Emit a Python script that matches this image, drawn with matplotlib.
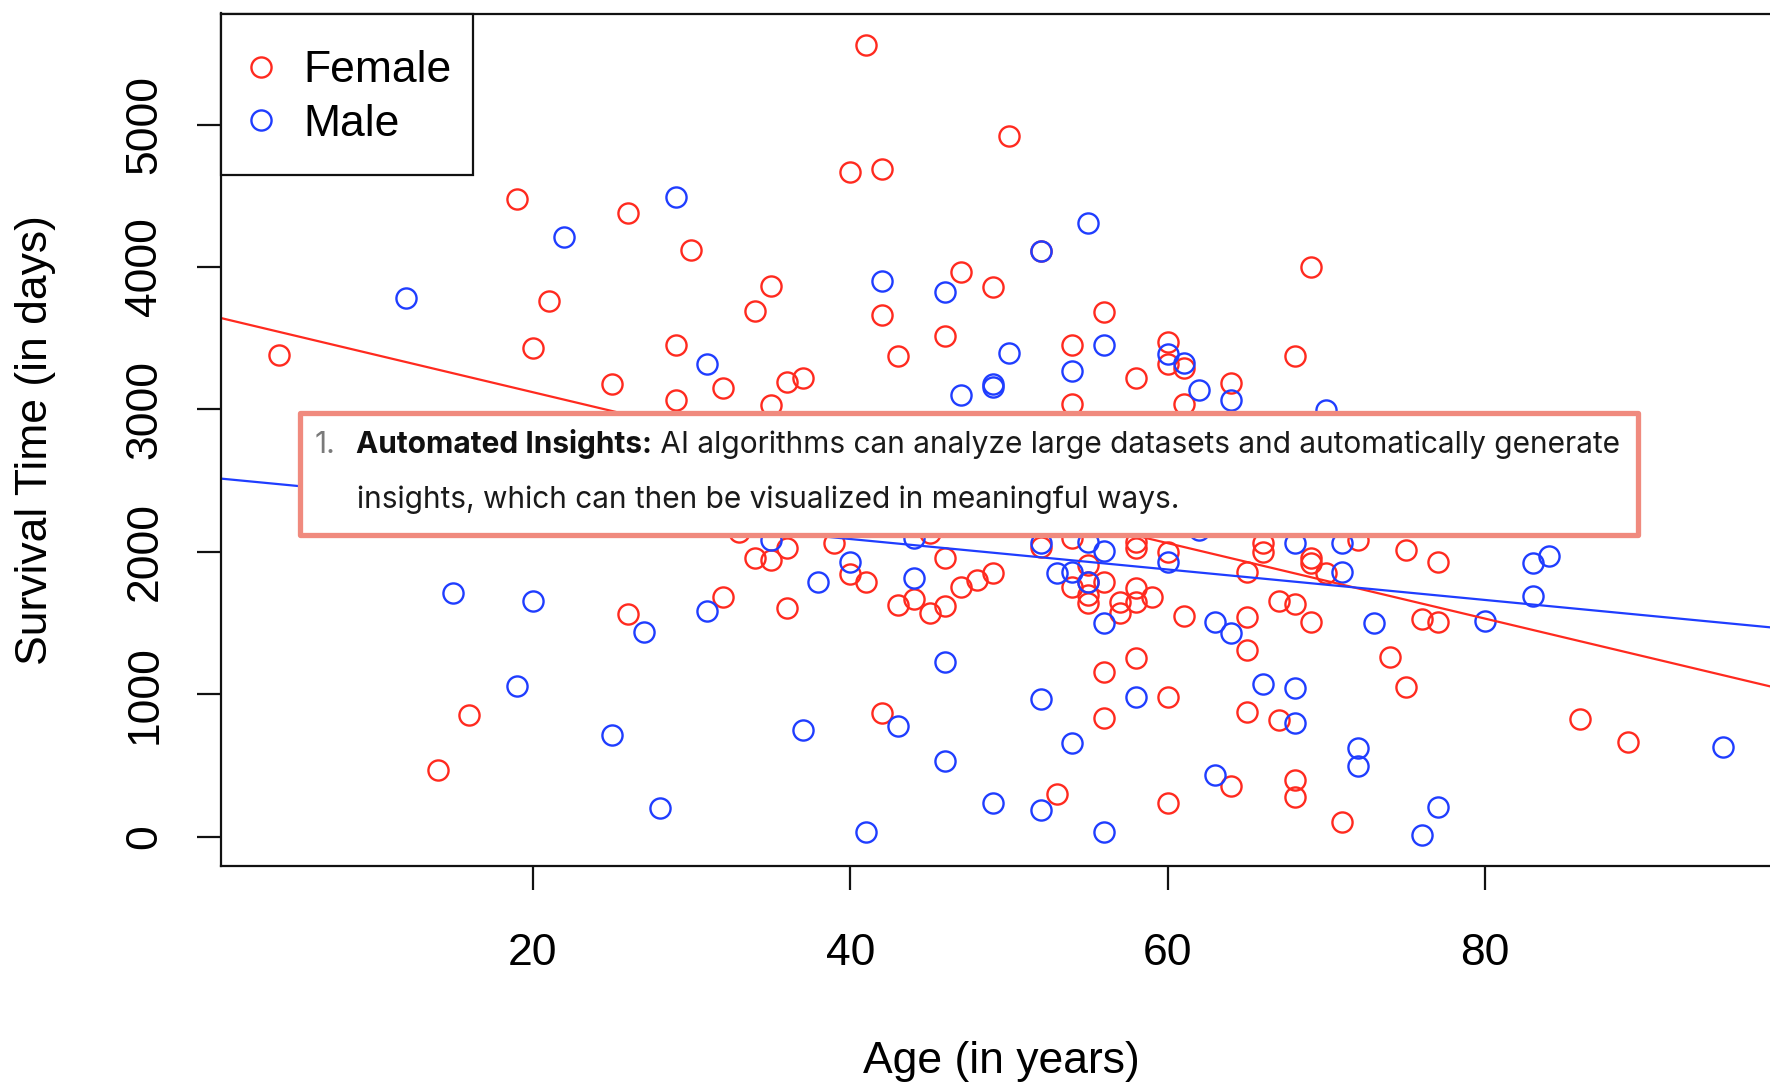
import matplotlib
matplotlib.use('Agg')
import matplotlib.pyplot as plt
from matplotlib.lines import Line2D
from matplotlib.patches import Rectangle

plt.rcParams['font.family'] = ['Liberation Sans', 'DejaVu Sans']

# ---------------- data ----------------
female_age = [4, 14, 16, 19, 20, 21, 25, 26, 26, 29, 29, 30, 32, 32, 33, 34, 34, 35, 35, 35,
              36, 36, 36, 37, 39, 40, 40, 41, 41, 42, 42, 42, 43, 43, 44, 45, 45, 46, 46, 46,
              47, 47, 48, 49, 49, 50, 52, 52, 53, 54, 54, 54, 54, 55, 55, 55, 55, 56, 56, 56,
              56, 57, 57, 58, 58, 58, 58, 58, 58, 59, 60, 60, 60, 60, 60, 61, 61, 61, 64, 64,
              65, 65, 65, 65, 66, 66, 67, 67, 68, 68, 68, 68, 69, 69, 69, 69, 70, 71, 72, 74,
              75, 75, 76, 77, 77, 86, 89]
female_surv = [3380, 466, 857, 4475, 3433, 3763, 3180, 4381, 1561, 3454, 3068, 4121, 3149, 1682,
               2136, 3693, 1954, 3868, 3033, 1940, 3194, 2024, 1603, 3222, 2059, 4670, 1847, 5560,
               1786, 4685, 3665, 866, 3377, 1627, 1666, 2130, 1568, 3518, 1955, 1617, 3967, 1750,
               1805, 3861, 1852, 4923, 4110, 2031, 298, 3454, 3040, 2095, 1751, 1905, 1790, 1700,
               1640, 3686, 1785, 1154, 831, 1645, 1568, 3222, 2066, 2024, 1745, 1645, 1252, 1680,
               3475, 3321, 1996, 979, 236, 3293, 3040, 1547, 3187, 354, 1856, 1540, 1308, 873,
               2059, 1996, 1655, 817, 3377, 1634, 396, 277, 3997, 1954, 1919, 1505, 1849, 101,
               2081, 1265, 2010, 1050, 1527, 1926, 1505, 824, 663]

male_age = [12, 15, 19, 20, 22, 25, 27, 28, 29, 31, 31, 35, 37, 38, 40, 41, 42, 43, 44, 44,
            46, 46, 46, 47, 49, 49, 49, 50, 52, 52, 52, 52, 53, 54, 54, 54, 55, 55, 55, 56,
            56, 56, 56, 58, 60, 60, 61, 62, 62, 63, 63, 64, 64, 66, 68, 68, 68, 70, 71, 71,
            72, 72, 73, 76, 77, 80, 83, 83, 84, 95]
male_surv = [3780, 1708, 1058, 1652, 4208, 717, 1435, 200, 4494, 3321, 1582, 2081, 752, 1790,
             1926, 31, 3904, 775, 2095, 1815, 3827, 1223, 530, 3098, 3180, 3160, 236, 3398,
             4110, 2059, 965, 186, 1849, 3272, 1856, 656, 4306, 2066, 1786, 3454, 2003, 1497,
             31, 979, 3386, 1926, 3328, 3138, 2150, 1505, 431, 3068, 1427, 1070, 2059, 1042,
             796, 2993, 2059, 1856, 621, 495, 1497, 10, 206, 1512, 1919, 1688, 1968, 627]

female_fit = (3651, -26.5)   # intercept, slope
male_fit = (2518, -10.7)

x_ticks = [20, 40, 60, 80]
y_ticks = [0, 1000, 2000, 3000, 4000, 5000]
legend_labels = ['Female', 'Male']
x_label = 'Age (in years)'
y_label = 'Survival Time (in days)'

note_number = '1.'
note_bold = 'Automated Insights:'
note_line1 = ' AI algorithms can analyze large datasets and automatically generate'
note_line2 = 'insights, which can then be visualized in meaningful ways.'

# ---------------- styling ----------------
RED = '#FF2A1F'
BLUE = '#1F3DFF'
W, H = 1770, 1084

fig = plt.figure(figsize=(W / 100, H / 100), dpi=100)
fig.patch.set_facecolor('white')

ax_l, ax_r, ax_t, ax_b = 221, 1781, 13.5, 866
ax_w, ax_h = ax_r - ax_l, ax_b - ax_t
ax = fig.add_axes([ax_l / W, 1 - ax_b / H, ax_w / W, ax_h / H])
ax.set_xlim(0.36, 98.64)
ax.set_ylim(-206, 5780)

mk = dict(marker='o', ls='none', mfc='none', ms=14.5, mew=1.7)
ax.plot(female_age, female_surv, mec=RED, **mk)
ax.plot(male_age, male_surv, mec=BLUE, **mk)

ax.axline((0, female_fit[0]), slope=female_fit[1], color=RED, lw=1.6)
ax.axline((0, male_fit[0]), slope=male_fit[1], color=BLUE, lw=1.6)

for s in ax.spines.values():
    s.set_linewidth(1.6)
    s.set_color('#111111')

ax.set_xticks(x_ticks)
ax.set_xticklabels([str(v) for v in x_ticks])
ax.set_yticks(y_ticks)
ax.set_yticklabels([str(v) for v in y_ticks], rotation=90, va='center')
ax.tick_params(axis='both', direction='out', length=17, width=1.6, labelsize=32,
               color='#111111', labelcolor='black')
ax.tick_params(axis='x', pad=31)
ax.tick_params(axis='y', pad=23)

ax.set_xlabel(x_label, fontsize=32)
ax.xaxis.set_label_coords(0.5, (ax_b - 1062) / ax_h)
ax.xaxis.label.set_va('center')
ax.set_ylabel(y_label, fontsize=32)
ax.yaxis.set_label_coords((36 - ax_l) / ax_w, 0.5)
ax.yaxis.label.set_va('center')

# legend: frame drawn as its own rectangle, entries placed inside
frame = Rectangle((0, 1 - (175 - ax_t) / ax_h), (473 - ax_l) / ax_w, (175 - ax_t) / ax_h,
                  transform=ax.transAxes, facecolor='white', edgecolor='#111111',
                  linewidth=1.6, clip_on=False, zorder=4)
ax.add_patch(frame)
handles = [Line2D([], [], mec=c, **mk) for c in (RED, BLUE)]
leg = ax.legend(handles, legend_labels, loc='upper left',
                bbox_to_anchor=(0, 1 - 10 / ax_h),
                borderaxespad=0, frameon=False, fontsize=32, handlelength=0.6,
                handletextpad=0.66, borderpad=0.6, labelspacing=0.28)
leg.set_zorder(5)

# ---------------- overlay note box ----------------
bx0, bx1, by0, by1 = 299.5, 1637.5, 412.5, 534.5
rect = Rectangle((bx0 / W, 1 - by1 / H), (bx1 - bx0) / W, (by1 - by0) / H,
                 transform=fig.transFigure, facecolor='white', edgecolor='#F08A7E',
                 linewidth=3.8, joinstyle='round', zorder=20)
fig.add_artist(rect)

NOTE_FONT = ['Inter', 'DejaVu Sans']
fs = 21.5
fig.text(315 / W, 1 - 453 / H, note_number, fontsize=fs, family=NOTE_FONT,
         color='#7a7a7a', va='baseline', ha='left', zorder=21)
tb = fig.text(356 / W, 1 - 453 / H, note_bold, fontsize=fs, family=NOTE_FONT,
              fontweight='bold', color='#111111', va='baseline', ha='left', zorder=21)
fig.canvas.draw()
ext = tb.get_window_extent(renderer=fig.canvas.get_renderer())
fig.text(ext.x1 / W, 1 - 453 / H, note_line1, fontsize=fs, family=NOTE_FONT,
         color='#1a1a1a', va='baseline', ha='left', zorder=21)
fig.text(357 / W, 1 - 508 / H, note_line2, fontsize=fs, family=NOTE_FONT,
         color='#1a1a1a', va='baseline', ha='left', zorder=21)

fig.savefig('out.png', dpi=100)
